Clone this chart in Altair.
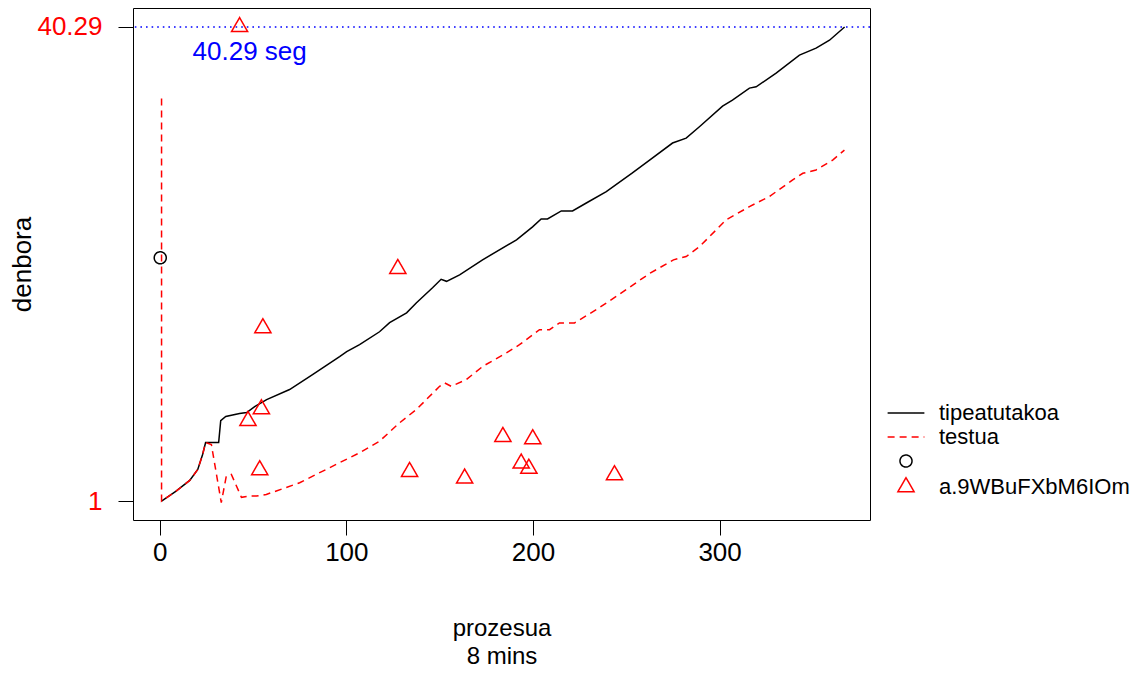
import altair as alt
import pandas as pd

# ---- data ----
tip_x = [1, 8.6, 16.1, 20.4, 23.0, 24.6, 31.6, 32.7, 35.4, 42.8, 46.6, 50.9, 57.3, 69.6, 81.9,
         96.4, 100.2, 107.1, 117.8, 123.2, 132.3, 137.6, 146.2, 150.8, 153.7, 160.7, 173.0,
         191.2, 199.8, 204.4, 207.8, 215.2, 221.2, 228.6, 239.3, 253.3, 262.5, 274.8, 282.1,
         289.2, 301.6, 306.9, 316.0, 319.6, 330.3, 342.8, 351.7, 358.9, 367.0]
tip_y = [1.0, 1.80, 2.71, 3.62, 4.86, 5.85, 5.85, 7.67, 8.01, 8.25, 8.34, 8.83, 9.41, 10.24, 11.48,
         12.97, 13.38, 13.96, 15.03, 15.78, 16.60, 17.43, 18.67, 19.38, 19.21, 19.75, 20.99,
         22.65, 23.72, 24.38, 24.38, 25.04, 25.04, 25.70, 26.64, 28.19, 29.26, 30.67, 31.08,
         32.02, 33.73, 34.23, 35.22, 35.33, 36.46, 37.95, 38.53, 39.19, 40.29]

test_x = [1, 1, 8.6, 16.1, 20.4, 23.0, 24.6, 27.7, 33.0, 35.7, 38.4, 43.8, 48.2, 51.8, 57.1,
          62.5, 75.0, 85.7, 96.4, 107.1, 117.8, 128.5, 137.5, 150.0, 152.7, 156.2, 164.3,
          173.2, 185.7, 192.8, 203.5, 208.9, 214.2, 222.3, 233.9, 244.6, 262.8, 275.3, 282.1,
          289.3, 303.5, 316.0, 326.6, 339.2, 344.6, 351.7, 360.6, 366.9]
test_y = [34.37, 1.0, 1.80, 2.71, 3.62, 4.86, 5.85, 5.69, 0.87, 3.07, 3.21, 1.31, 1.41, 1.41, 1.55,
          1.83, 2.52, 3.35, 4.18, 5.00, 5.96, 7.48, 8.58, 10.51, 10.79, 10.51, 11.07,
          12.17, 13.27, 13.96, 15.20, 15.20, 15.76, 15.76, 16.86, 17.96, 19.89, 20.99, 21.26,
          22.09, 24.30, 25.40, 26.23, 27.61, 28.16, 28.44, 29.26, 30.08]

tri_x = [42.8, 127.6, 55.3, 54.5, 47.3, 53.6, 133.9, 163.4, 183.9, 199.9, 193.7, 197.8, 243.7]
tri_y = [40.29, 20.25, 15.34, 8.62, 7.65, 3.57, 3.43, 2.88, 6.33, 6.14, 4.12, 3.70, 3.16]

circ_x = [0.3]
circ_y = [21.16]

ref_value = 40.29
ref_label = "40.29 seg"
ref_label_x = 48.2

series = ["tipeatutakoa", "testua", "circle", "a.9WBuFXbM6IOm"]
x_ticks = [0, 100, 200, 300]
y_ticks = [1, 40.29]

# ---- tables ----
tip_df = pd.DataFrame({"x": tip_x, "y": tip_y, "idx": list(range(len(tip_x)))})
test_df = pd.DataFrame({"x": test_x, "y": test_y, "idx": list(range(len(test_x)))})
pt_df = pd.DataFrame({
    "x": circ_x + tri_x,
    "y": circ_y + tri_y,
    "series": [series[2]] * len(circ_x) + [series[3]] * len(tri_x),
})
ref_df = pd.DataFrame({"y": [ref_value], "x": [ref_label_x], "label": [ref_label]})

FONT = "Liberation Sans"
LINE = "M-2.6,0H2.6"
CIRC = "M-0.85,0A0.85,0.85,0,1,1,0.85,0A0.85,0.85,0,1,1,-0.85,0Z"
TRI = "M0,-1.32L1.143,0.66L-1.143,0.66Z"

color_scale = alt.Scale(domain=series, range=["black", "red", "black", "red"])
dash_scale = alt.Scale(domain=series, range=[[1, 0], [7, 5], [1, 0], [1, 0]])
shape_scale = alt.Scale(domain=series, range=[LINE, LINE, CIRC, TRI])

xs = alt.Scale(domain=[-14.3, 380.6], nice=False, zero=False)
ys = alt.Scale(domain=[-0.57, 41.86], nice=False, zero=False)

xaxis = alt.Axis(values=x_ticks, title=["prozesua", "8 mins"], grid=False, domain=False,
                 tickSize=15, tickColor="black", tickWidth=1, labelFontSize=26, labelFont=FONT,
                 labelColor="black", labelPadding=4, titleFontSize=24, titleFont=FONT,
                 titleFontWeight="normal", titleColor="black", titleY=108, titleBaseline="middle",
                 titleLineHeight=28)
yaxis = alt.Axis(values=y_ticks, format=".2~f", title="denbora", grid=False, domain=False,
                 tickSize=15, tickColor="black", tickWidth=1, labelFontSize=26, labelFont=FONT,
                 labelColor="red", labelPadding=16, titleFontSize=26, titleFont=FONT,
                 titleFontWeight="normal", titleColor="black", titleX=-111, titleBaseline="middle")

leg = alt.Legend(title=None, orient="none", legendX=762, legendY=394, labelFontSize=22,
                 labelFont=FONT, labelColor="black", symbolSize=200, symbolStrokeWidth=1.5,
                 labelOffset=22, rowPadding=2, padding=0, labelLimit=400,
                 labelExpr="datum.label == 'circle' ? '' : datum.label")

tip_line = alt.Chart(tip_df).mark_line(strokeWidth=1.5, color="black").encode(
    x=alt.X("x:Q", scale=xs, axis=xaxis),
    y=alt.Y("y:Q", scale=ys, axis=yaxis),
    order="idx:Q",
)
test_line = alt.Chart(test_df).mark_line(strokeWidth=1.5, color="red", strokeDash=[7, 5]).encode(
    x=alt.X("x:Q", scale=xs),
    y=alt.Y("y:Q", scale=ys),
    order="idx:Q",
)

pts = alt.Chart(pt_df).mark_point(filled=False, size=200, strokeWidth=1.5, opacity=1).encode(
    x=alt.X("x:Q", scale=xs),
    y=alt.Y("y:Q", scale=ys),
    color=alt.Color("series:N", scale=color_scale, legend=leg),
    shape=alt.Shape("series:N", scale=shape_scale, legend=leg),
    strokeDash=alt.StrokeDash("series:N", scale=dash_scale, legend=leg),
)

rule = alt.Chart(ref_df).mark_rule(color="blue", strokeDash=[1.6, 4], strokeWidth=1.5).encode(
    y=alt.Y("y:Q", scale=ys)
)
txt = alt.Chart(ref_df).mark_text(color="blue", fontSize=26, font=FONT, dy=25,
                                  baseline="middle", align="center").encode(
    x=alt.X("x:Q", scale=xs), y=alt.Y("y:Q", scale=ys), text="label:N"
)

chart = alt.layer(rule, tip_line, test_line, pts, txt).properties(
    width=737, height=512,
    padding={"left": 125, "top": 0, "right": 264, "bottom": 150},
    autosize=alt.AutoSizeParams(type="none"),
    background="white",
).configure_view(stroke="black", strokeWidth=1)

chart.save("out.html", embed_options={"renderer": "svg", "actions": False})
